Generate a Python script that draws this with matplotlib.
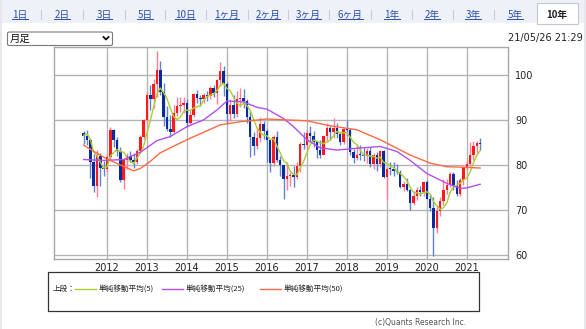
import numpy as np
import matplotlib
matplotlib.use("Agg")
import matplotlib.pyplot as plt
from matplotlib.patches import Rectangle, FancyBboxPatch
from matplotlib.lines import Line2D

W, H = 586, 329
JP = ["Noto Sans CJK JP", "DejaVu Sans"]

# monthly candles 2011-06 .. 2021-05 (open = previous close)
first_month = "2011-06"
first_open = 87.0
closes = [86.4, 85.6, 80.6, 75.4, 82.0, 79.4, 79.0,
          81.8, 87.8, 85.6, 83.0, 76.6, 81.2, 82.0, 81.0, 80.6, 83.0, 86.2, 90.0,
          95.6, 94.6, 98.0, 101.0, 96.2, 90.6, 87.9, 87.4, 91.6, 93.0, 93.3, 93.8,
          89.3, 91.0, 95.7, 94.9, 94.6, 95.5, 95.3, 97.2, 96.0, 98.8, 100.9, 97.9,
          91.4, 93.4, 91.4, 94.6, 94.9, 94.3, 90.6, 86.2, 84.2, 86.0, 89.0, 87.6,
          85.6, 80.4, 86.3, 81.0, 80.0, 76.9, 77.5, 77.7, 77.4, 79.7, 84.6, 84.4,
          87.1, 86.5, 85.1, 83.4, 82.3, 86.4, 88.2, 87.4, 88.2, 86.9, 85.1, 88.0,
          87.8, 82.8, 81.6, 82.3, 82.2, 81.9, 83.1, 80.2, 82.2, 80.1, 83.0, 77.3,
          79.2, 79.1, 78.7, 78.5, 75.1, 75.7, 74.4, 71.5, 73.0, 74.4, 74.0, 76.3,
          72.5, 70.4, 66.0, 69.8, 71.9, 74.5, 75.6, 78.0, 75.6, 73.6, 76.7, 79.5,
          80.1, 82.1, 84.1, 84.9, 84.6]
highs = [87.6, 87.8, 86.0, 82.4, 83.4, 82.6, 80.8,
         82.4, 88.4, 88.0, 86.2, 84.0, 81.6, 82.6, 83.0, 82.6, 83.6, 86.6, 90.2,
         96.2, 97.8, 99.0, 105.4, 103.0, 98.2, 93.2, 91.0, 93.4, 95.0, 95.2, 95.0,
         94.6, 92.2, 96.0, 96.6, 95.6, 96.0, 96.4, 97.6, 97.8, 99.0, 102.8, 102.0,
         98.4, 94.6, 95.6, 96.4, 97.0, 96.8, 94.6, 92.0, 87.4, 88.2, 90.6, 89.8,
         88.0, 85.0, 86.6, 87.6, 82.0, 79.4, 80.6, 78.4, 79.8, 80.6, 85.0, 87.4,
         87.8, 88.6, 87.6, 85.4, 85.6, 86.4, 89.4, 88.6, 90.4, 89.4, 87.4, 88.2,
         90.0, 88.2, 83.6, 84.6, 84.4, 83.8, 83.8, 84.0, 82.6, 82.8, 83.4, 83.4,
         79.6, 80.6, 80.6, 80.2, 78.8, 76.4, 77.2, 74.6, 74.2, 75.2, 75.4, 76.4,
         76.6, 73.6, 72.8, 70.8, 72.8, 76.8, 76.8, 78.4, 78.4, 76.6, 77.2, 79.6,
         81.2, 85.0, 85.4, 85.4, 86.0]
lows = [84.6, 84.4, 77.2, 74.0, 72.8, 75.4, 77.6,
        78.4, 81.2, 84.0, 82.0, 76.2, 74.6, 79.2, 80.6, 79.4, 80.2, 82.6, 85.8,
        89.6, 92.2, 92.6, 95.0, 95.6, 88.6, 87.6, 86.2, 87.0, 90.8, 91.8, 91.6,
        88.4, 89.0, 90.6, 93.8, 93.2, 93.8, 94.2, 94.6, 95.0, 93.6, 97.6, 95.4,
        89.0, 89.8, 90.4, 90.6, 92.8, 92.6, 89.4, 81.8, 82.2, 83.6, 85.2, 85.8,
        80.6, 78.4, 79.8, 80.6, 77.6, 72.4, 74.4, 75.4, 75.0, 76.8, 78.4, 83.6,
        83.4, 85.2, 84.0, 81.6, 81.6, 82.6, 85.4, 85.6, 86.0, 86.0, 84.4, 84.6,
        86.4, 82.2, 80.4, 81.0, 81.0, 80.8, 80.4, 79.6, 79.2, 78.6, 79.6, 77.0,
        72.4, 77.8, 77.6, 78.0, 74.8, 74.2, 74.2, 70.0, 71.0, 72.2, 73.2, 73.2,
        72.4, 69.8, 59.8, 64.8, 68.6, 71.0, 73.6, 75.0, 74.4, 73.0, 73.0, 75.6,
        78.8, 79.8, 81.0, 82.4, 83.4]
prior_closes = [84.0, 86.6, 89.4, 86.6]   # 2011-02 .. 2011-05, feeds the 5-month average

ma25_months = ["2011-06", "2011-12", "2012-06", "2012-11", "2013-04", "2013-08",
               "2014-01", "2014-06", "2014-10", "2015-01", "2015-06", "2015-10",
               "2016-01", "2016-06", "2016-09", "2017-01", "2017-05", "2017-10",
               "2018-04", "2018-11", "2019-04", "2019-08", "2020-01", "2020-07",
               "2020-11", "2021-01", "2021-05"]
ma25_values = [81.2, 81.0, 81.2, 82.8, 85.4, 86.3,
               88.5, 90.0, 92.2, 94.2, 94.0, 92.8,
               92.4, 90.3, 88.5, 85.6, 83.8, 83.3,
               83.7, 84.1, 83.0, 81.0, 78.1, 75.9,
               74.8, 74.9, 75.7]
ma50_months = ["2011-06", "2011-10", "2012-01", "2012-05", "2012-09", "2012-11",
               "2013-02", "2013-05", "2014-01", "2014-11", "2015-05", "2016-01",
               "2016-07", "2017-01", "2017-08", "2018-04", "2018-11", "2019-08",
               "2020-02", "2020-07", "2020-12", "2021-05"]
ma50_values = [84.4, 82.6, 81.3, 80.0, 78.7, 79.2,
               80.8, 82.7, 85.6, 88.9, 89.6, 90.2,
               90.0, 89.8, 88.7, 87.8, 85.6, 82.2,
               80.4, 79.6, 79.5, 79.3]

tabs = ["1日", "2日", "3日", "5日", "10日", "1ヶ月", "2ヶ月", "3ヶ月",
        "6ヶ月", "1年", "2年", "3年", "5年", "10年"]
tab_x = [20, 62, 104, 145, 185, 227, 268, 308, 350, 392, 432, 473, 515, 557]
years = list(range(2012, 2022))
yticks = [60, 70, 80, 90, 100]
legend_items = [("単純移動平均(5)", "#a8d030"),
                ("単純移動平均(25)", "#b050f0"),
                ("単純移動平均(50)", "#ff6a45")]


def to_year(s):
    y, m = s.split("-")
    return int(y) + (int(m) - 1) / 12


def fx(x):
    return x / W


def fy(y):
    return 1 - y / H


fig = plt.figure(figsize=(W / 100, H / 100), dpi=100, facecolor="white")

# page chrome: tab strip, side borders
fig.add_artist(Rectangle((0, fy(23)), 1, 23 / H, transform=fig.transFigure,
                         facecolor="#eef2f8", edgecolor="none", zorder=0))
fig.add_artist(Rectangle((0, 0), fx(2), 1, transform=fig.transFigure,
                         facecolor="#e6e8ec", edgecolor="none", zorder=0))
fig.add_artist(Rectangle((fx(584), 0), fx(2), 1, transform=fig.transFigure,
                         facecolor="#e6e8ec", edgecolor="none", zorder=0))
fig.add_artist(Rectangle((fx(537), fy(24)), fx(578 - 537), 21 / H, transform=fig.transFigure,
                         facecolor="white", edgecolor="#c4c8d0", lw=0.8, zorder=1))

tab_texts = []
for i, (lab, x) in enumerate(zip(tabs, tab_x)):
    active = lab == "10年"
    t = fig.text(fx(x), fy(15), lab, ha="center", va="center", fontsize=7,
                 family=JP, color="#222222" if active else "#2a4fb0",
                 fontweight="bold" if active else "normal", zorder=2)
    if not active:
        tab_texts.append(t)
    if i < len(tabs) - 2:
        sx = (x + tab_x[i + 1]) / 2
        fig.add_artist(Line2D([fx(sx), fx(sx)], [fy(10), fy(19)], transform=fig.transFigure,
                              color="#c8ccd4", lw=0.8))

# select box
fig.add_artist(FancyBboxPatch((fx(7.5), fy(45.5)), fx(105), 13.5 / H,
                              boxstyle="round,pad=0,rounding_size=0.004",
                              transform=fig.transFigure, facecolor="white",
                              edgecolor="#7a7a7a", lw=0.8))
fig.text(fx(10), fy(38.5), "月足", ha="left", va="center", fontsize=7.5, family=JP, color="#111111")
fig.add_artist(Line2D([fx(103.5), fx(106), fx(108.5)], [fy(37), fy(39.5), fy(37)],
                      transform=fig.transFigure, color="#111111", lw=1.3))
fig.text(fx(583), fy(37.5), "21/05/26 21:29", ha="right", va="center", fontsize=7, color="#222222")

# price panel
ax = fig.add_axes([fx(54), fy(259), fx(508 - 54), 212 / H])
ax.set_facecolor("white")

c = np.array(closes)
o = np.r_[first_open, c[:-1]]
hi = np.array(highs)
lo = np.array(lows)
x = to_year(first_month) + np.arange(len(c)) / 12
up = c >= o

ax.vlines(x, lo, hi, colors=np.where(up, "#ff7f96", "#5f82d2"), lw=1, zorder=2)
body = np.maximum(np.abs(c - o), 0.2)
ax.bar(x, body, bottom=np.minimum(o, c), width=0.062,
       color=np.where(up, "#ff1a1a", "#0d2a9c"), lw=0, zorder=3)

ma5 = np.convolve(np.r_[prior_closes, c], np.ones(5) / 5, mode="valid")
ax.plot(x, ma5, color=legend_items[0][1], lw=1, zorder=4)
ax.plot([to_year(m) for m in ma25_months], ma25_values, color=legend_items[1][1], lw=1, zorder=4)
ax.plot([to_year(m) for m in ma50_months], ma50_values, color=legend_items[2][1], lw=1, zorder=4)

ax.set_xlim(2010.675, 2022.03)
ax.set_ylim(59.1, 106.2)
ax.set_xticks(years)
ax.set_yticks(yticks)
ax.grid(True, color="#b4b4b4", lw=1, zorder=0)
ax.set_axisbelow(True)
ax.yaxis.tick_right()
ax.tick_params(axis="both", length=0, labelsize=7, colors="#222222")
ax.tick_params(axis="y", pad=5)
ax.tick_params(axis="x", pad=3)
for s in ax.spines.values():
    s.set_color("#a8a8a8")
    s.set_linewidth(1)

# legend frame
fig.add_artist(Rectangle((fx(48), fy(311)), fx(479 - 48), 39 / H, transform=fig.transFigure,
                         facecolor="white", edgecolor="#333333", lw=0.9))
fig.text(fx(53), fy(289), "上段：", ha="left", va="center", fontsize=5.5, family=JP, color="#222222")
for (lab, col), lx in zip(legend_items, [75, 162, 260]):
    fig.add_artist(Line2D([fx(lx), fx(lx + 21)], [fy(289), fy(289)], transform=fig.transFigure,
                          color=col, lw=1))
    fig.text(fx(lx + 24), fy(289), lab, ha="left", va="center", fontsize=5.5, family=JP, color="#222222")

fig.text(fx(466), fy(322), "(c)Quants Research Inc.", ha="right", va="center",
         fontsize=5.5, color="#555555")

# underline the tab links
fig.canvas.draw()
r = fig.canvas.get_renderer()
for t in tab_texts:
    bb = t.get_window_extent(r)
    yline = bb.y0 + 1
    fig.add_artist(Line2D([bb.x0 / fig.bbox.width, bb.x1 / fig.bbox.width],
                          [yline / fig.bbox.height] * 2, transform=fig.transFigure,
                          color="#2a4fb0", lw=0.7))

fig.savefig("out.png", dpi=100, facecolor="white")
